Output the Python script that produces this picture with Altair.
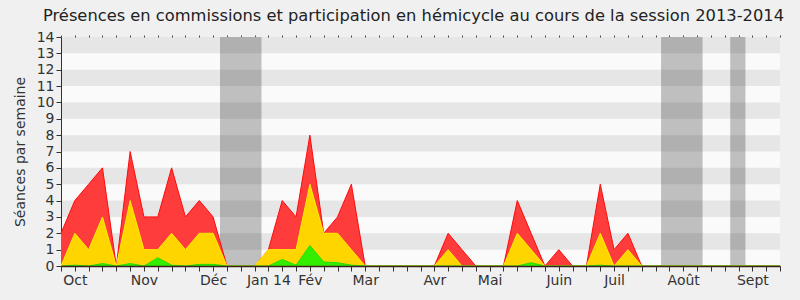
import altair as alt
import pandas as pd

# ---- data ----
weeks = list(range(53))
red_total = [2, 4, 5, 6, 0, 7, 3, 3, 6, 3, 4, 3, 0, 0, 0, 1, 4, 3, 8, 2, 3, 5, 0, 0, 0, 0,
             0, 0, 2, 1, 0, 0, 0, 4, 2, 0, 1, 0, 0, 5, 1, 2] + [0] * 11
yellow_total = [0, 2, 1, 3, 0, 4, 1, 1, 2, 1, 2, 2, 0, 0, 0, 1, 1, 1, 5, 2, 2, 1, 0, 0, 0, 0,
                0, 0, 1, 0, 0, 0, 0, 2, 1, 0, 0, 0, 0, 2, 0, 1] + [0] * 11
green_total = ([0, 0.05, 0, 0.15, 0, 0.15, 0, 0.5, 0.05, 0, 0.1, 0.1, 0, 0, 0, 0, 0.4, 0.05,
                1.25, 0.25, 0.2, 0.05] + [0] * 12 + [0.2] + [0] * 4 + [0.05] + [0] * 13)

month_weeks = [1, 6, 11, 15, 18, 22, 27, 31, 36, 40, 45, 50]
month_names = ["Oct", "Nov", "Déc", "Jan 14", "Fév", "Mar", "Avr", "Mai", "Juin", "Juil", "Août", "Sept"]

vac_start = [11.5, 43.4, 48.4]
vac_end = [14.5, 46.4, 49.5]

band_lo = [1, 3, 5, 7, 9, 11, 13]
band_hi = [2, 4, 6, 8, 10, 12, 14]

FONT = "DejaVu Sans"
W, H = 719, 229

df = pd.DataFrame({"week": weeks, "red": red_total, "yellow": yellow_total, "green": green_total})
vac = pd.DataFrame({"start": vac_start, "end": vac_end})
bands = pd.DataFrame({"lo": band_lo, "hi": band_hi})

xscale = alt.Scale(domain=[0, 52], nice=False, zero=False)
yscale = alt.Scale(domain=[0, 14], nice=False)

label_expr = "''"
for w, n in reversed(list(zip(month_weeks, month_names))):
    label_expr = f"datum.value == {w} ? '{n}' : ({label_expr})"

yaxis = alt.Axis(values=list(range(15)), title="Séances par semaine", grid=False,
                 tickSize=5, tickColor="#333", domainColor="#333", labelFontSize=14,
                 labelColor="#333", labelFont=FONT, titleFont=FONT, titleFontSize=14,
                 titleFontWeight="normal", titleColor="#333", labelPadding=2, titlePadding=9)

vac_layer = alt.Chart(vac).mark_rect(color="#bfbfbf").encode(
    x=alt.X("start:Q", scale=xscale,
            axis=alt.Axis(orient="top", values=weeks, tickSize=2, labels=False, domain=False,
                          title=None, grid=False, tickColor="#444")),
    x2="end:Q",
    y=alt.YDatum(0, scale=yscale, axis=yaxis),
    y2=alt.Y2Datum(14),
)

band_layer = alt.Chart(bands).mark_rect(color="#000000", opacity=0.08).encode(
    x=alt.XDatum(0, scale=xscale, axis=None),
    x2=alt.X2Datum(52),
    y=alt.Y("lo:Q", scale=yscale, axis=yaxis),
    y2="hi:Q",
)

xaxis = alt.Axis(values=weeks, labelExpr=label_expr, tickSize=5, tickColor="#333",
                 domainColor="#3a2020", domainWidth=1.5, labelFontSize=14, labelColor="#333",
                 labelFont=FONT, labelOverlap=False, labelPadding=2, title=None, grid=False,
                 zindex=1)


def area(col, fill, stroke, with_axis):
    return alt.Chart(df).mark_area(color=fill, opacity=1, interpolate="linear",
                                   line={"color": stroke, "strokeWidth": 1}).encode(
        x=alt.X("week:Q", scale=xscale, axis=xaxis if with_axis else None),
        y=alt.Y(f"{col}:Q", scale=yscale, axis=yaxis),
    )


chart = alt.layer(
    vac_layer,
    band_layer,
    area("red", "#ff3c3c", "#ff0a0a", True),
    area("yellow", "#ffd500", "#ffee00", False),
    area("green", "#33ee00", "#22dd00", False),
).resolve_axis(x="independent").properties(
    width=W, height=H,
    autosize=alt.AutoSizeParams(type="none"),
    padding={"left": 61, "top": 37, "right": 20, "bottom": 34},
    background="#f0f0f0",
    title=alt.TitleParams(
        "Présences en commissions et participation en hémicycle au cours de la session 2013-2014",
        font=FONT, fontSize=16.3, fontWeight="normal", color="#222", anchor="middle",
        offset=6, dx=-7),
).configure_view(fill="#fafafa", stroke=None)

chart.save("out.html", embed_options={"renderer": "svg", "actions": False})
